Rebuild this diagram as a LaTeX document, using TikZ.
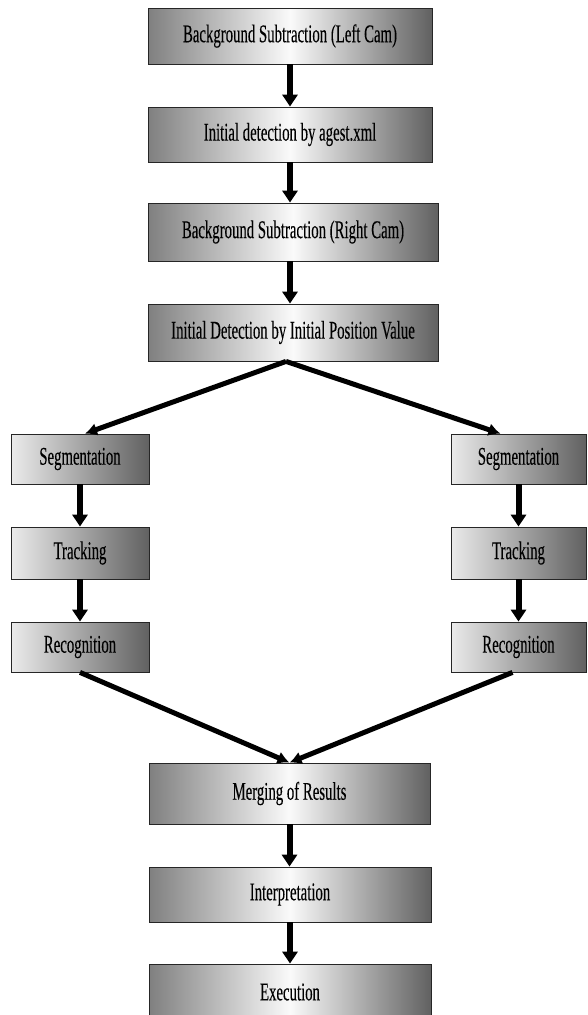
\documentclass[tikz,border=0pt]{standalone}
\usepackage{fontspec}
\newfontfamily\boxfont[FakeStretch=0.58,FakeBold=0.2]{Liberation Serif}
\usetikzlibrary{arrows.meta}

\tikzset{
  widebox/.style={draw=black!85, line width=0.8pt, left color=black!50,
    right color=black!62, middle color=black!2, inner sep=0pt,
    font=\boxfont\fontsize{25.5}{28}\selectfont, text=black},
  smallbox/.style={draw=black!85, line width=0.8pt, left color=black!8,
    right color=black!62, inner sep=0pt, minimum height=50pt,
    font=\boxfont\fontsize{25.5}{28}\selectfont, text=black},
  flow/.style={line width=6pt, -{Triangle[length=12pt,width=15pt]}},
  slant/.style={line width=5pt, -{Latex[length=12pt,width=13pt]}}
}

\begin{document}
\begin{tikzpicture}[x=1pt,y=-1pt]
\useasboundingbox (0,0) rectangle (587,1015);

% main column
\node[widebox, minimum width=284pt, minimum height=56pt] (bgleft) at (290,36) {Background Subtraction (Left Cam)};
\node[widebox, minimum width=284pt, minimum height=55pt] (initdet) at (290,134.5) {Initial detection by agest.xml};
\node[widebox, minimum width=290pt, minimum height=58pt] (bgright) at (293,232) {Background Subtraction (Right Cam)};
\node[widebox, minimum width=290pt, minimum height=57pt] (initpos) at (293,332.5) {Initial Detection by Initial Position Value};

% left branch
\node[smallbox, minimum width=138pt] (segL) at (80,459) {Segmentation};
\node[smallbox, minimum width=138pt, minimum height=52pt] (trackL) at (80,553) {Tracking};
\node[smallbox, minimum width=138pt] (recL) at (80,647) {Recognition};

% right branch
\node[smallbox, minimum width=135pt] (segR) at (518.5,459) {Segmentation};
\node[smallbox, minimum width=135pt, minimum height=52pt] (trackR) at (518.5,553) {Tracking};
\node[smallbox, minimum width=135pt] (recR) at (518.5,647) {Recognition};

% bottom column
\node[widebox, minimum width=281pt, minimum height=61pt] (merge) at (289.5,793.5) {Merging of Results};
\node[widebox, minimum width=282pt, minimum height=55pt] (interp) at (290,894.5) {Interpretation};
\node[widebox, minimum width=282pt, minimum height=56pt] (exec) at (290,992) {Execution};

\draw[flow] (bgleft) -- (initdet);
\draw[flow] (initdet.south) -- (initdet.south |- bgright.north);
\draw[flow] (initdet.south |- bgright.south) -- (initdet.south |- initpos.north);

\draw[slant] ([xshift=-7pt]initpos.south) -- ([xshift=5pt]segL.north);
\draw[slant] ([xshift=-7pt]initpos.south) -- ([xshift=-18pt]segR.north);

\draw[flow] (segL) -- (trackL);
\draw[flow] (trackL) -- (recL);
\draw[flow] (segR) -- (trackR);
\draw[flow] (trackR) -- (recR);

\draw[slant] (recL.south) -- (merge.north);
\draw[slant] ([xshift=-6pt]recR.south) -- (merge.north);

\draw[flow] (merge.south) -- (merge.south |- interp.north);
\draw[flow] (interp) -- (exec);

\end{tikzpicture}
\end{document}
